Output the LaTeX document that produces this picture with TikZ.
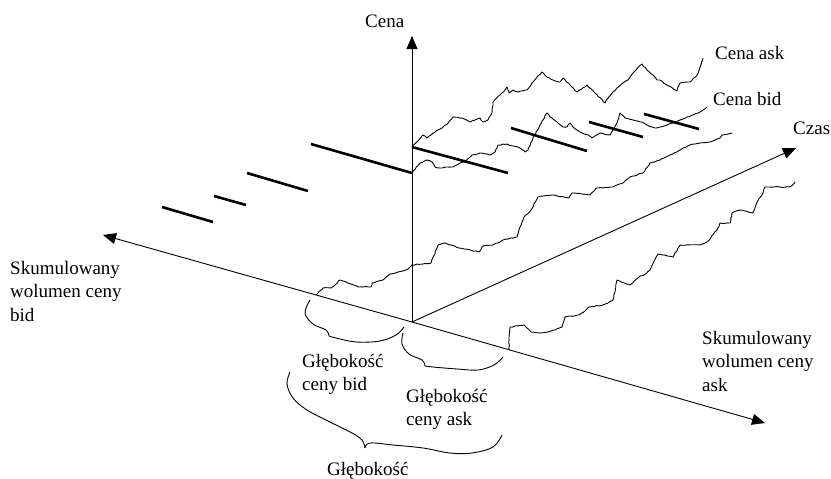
\documentclass[tikz,border=0pt]{standalone}
\usepackage{fontspec}
\setmainfont{Liberation Serif}
\usetikzlibrary{arrows.meta,decorations.pathmorphing}
\begin{document}
\begin{tikzpicture}[x=1pt,y=-1pt,
  axis/.style={line width=0.9pt,-{Triangle[length=13pt,width=11pt]}},
  walk/.style={line width=0.9pt,line join=round,
    decorate,decoration={random steps,segment length=2.5pt,amplitude=0.45pt}},
  spread/.style={line width=2.6pt},
  brace/.style={line width=0.9pt},
  lbl/.style={font=\fontsize{19}{23.5}\selectfont,inner sep=0pt,anchor=north west,align=left}]
\pgfmathsetseed{11}
\useasboundingbox (0,0) rectangle (831,479);

% origin and axis ends
\coordinate (O)    at (412,322);
\coordinate (Pend) at (412,36);
\coordinate (Bend) at (103,235);
\coordinate (Aend) at (765,423);
\coordinate (Tend) at (796,148);

\draw[axis] (O) -- (Pend);
\draw[axis] (O) -- (Bend);
\draw[axis] (O) -- (Aend);
\draw[axis] (O) -- (Tend);

% bid-side depth bars
\draw[spread] (311,144) -- (412,173);
\draw[spread] (247,173) -- (308,191);
\draw[spread] (214,196) -- (246,205);
\draw[spread] (162,207) -- (213,222);

% spread bars along time
\draw[spread] (412,147) -- (508,173);
\draw[spread] (511,128) -- (587,151);
\draw[spread] (589,122) -- (643,137);
\draw[spread] (644,114) -- (699,129);

% ask price path
\draw[walk] plot coordinates {(412,147) (423,135) (427,138) (435,132) (443,127) (448,123) (453,117)
  (462,118) (470,122) (475,120) (480,118) (483,122) (488,120) (492,113) (493,102) (500,95) (505,90)
  (507,87) (509,93) (513,90) (518,92) (527,90) (532,83) (537,77) (542,72) (547,77) (553,80) (560,82)
  (563,78) (570,85) (577,92) (587,85) (595,93) (605,103) (608,98) (613,92) (617,88) (623,83) (628,80)
  (633,73) (642,64) (647,70) (653,75) (657,80) (660,80) (667,85) (677,91) (680,83) (690,82) (697,75)
  (700,67) (703,58)};

% bid price path
\draw[walk] plot coordinates {(412,173) (420,163) (427,160) (432,162) (435,167) (440,168) (447,167)
  (453,167) (460,163) (465,162) (472,155) (480,153) (490,155) (495,152) (498,145) (507,144) (513,146)
  (520,148) (525,152) (528,150) (533,138) (540,125) (547,113) (550,117) (557,122) (563,127) (567,127)
  (570,123) (573,127) (577,130) (582,133) (588,135) (592,138) (595,136) (600,133) (610,135) (613,130)
  (617,123) (620,113) (625,118) (633,120) (642,122) (647,125) (652,127) (655,128) (660,127) (667,125)
  (673,123) (680,120) (687,117) (693,115) (700,112) (707,107)};

% cumulative bid volume curve
\draw[walk] plot coordinates {(316,295) (323,288) (331,288) (340,280) (348,283) (359,287) (371,287)
  (372,283) (383,280) (390,274) (398,272) (408,269) (412,265) (431,263) (438,245) (445,243) (459,248)
  (479,252) (483,246) (493,245) (503,240) (517,237) (520,227) (524,217) (531,210) (538,197) (553,195)
  (569,198) (572,193) (590,195) (596,188) (613,187) (623,183) (630,177) (643,173) (650,163) (660,160)
  (670,155) (677,152) (683,148) (690,145) (700,143) (710,142) (720,138) (722,135) (732,133)};

% cumulative ask volume curve
\draw[walk] plot coordinates {(509,350) (509,337) (510,327) (524,325) (531,332) (541,333) (555,330)
  (562,327) (565,317) (579,315) (586,310) (589,307) (603,305) (613,300) (617,280) (630,285) (640,276)
  (644,275) (650,270) (658,254) (673,257) (680,245) (700,245) (707,242) (717,230) (720,223) (730,223)
  (732,213) (740,210) (753,213) (757,202) (763,193) (765,187) (780,187) (790,187) (795,182)};

% depth braces
\draw[brace] plot[smooth,tension=0.6] coordinates {(310,300) (305,313) (313,324) (326,330) (329,336)};
\draw[brace] plot[smooth,tension=0.6] coordinates {(329,336) (336,338) (356,342) (380,341) (396,335) (404,327)};
\draw[brace] plot[smooth,tension=0.6] coordinates {(403,333) (402,344) (409,354) (422,360) (425,366)};
\draw[brace] plot[smooth,tension=0.6] coordinates {(425,366) (433,367) (457,369) (478,370) (494,365) (503,357)};
\draw[brace] plot[smooth,tension=0.6] coordinates {(290,372) (287,384) (293,398) (307,410) (330,422) (352,433) (362,440) (365,448)};
\draw[brace] plot[smooth,tension=0.6] coordinates {(365,448) (370,443) (393,445) (423,448) (450,453) (472,453) (493,447) (502,435)};

% labels
\node[lbl] (lcena)  at (365,15)  {Cena};
\node[lbl] (lask)   at (715,46)  {Cena ask};
\node[lbl] (lbid)   at (713,92)  {Cena bid};
\node[lbl] (lczas)  at (793,122) {Czas};
\node[lbl] (lvbid)  at (10,261)  {Skumulowany\\wolumen ceny\\bid};
\node[lbl] (lvask)  at (702,331) {Skumulowany\\wolumen ceny\\ask};
\node[lbl] (ldbid)  at (302,354) {Głębokość\\ceny bid};
\node[lbl] (ldask)  at (406,389) {Głębokość\\ceny ask};
\node[lbl] (ldep)   at (327,462) {Głębokość};
\end{tikzpicture}
\end{document}
